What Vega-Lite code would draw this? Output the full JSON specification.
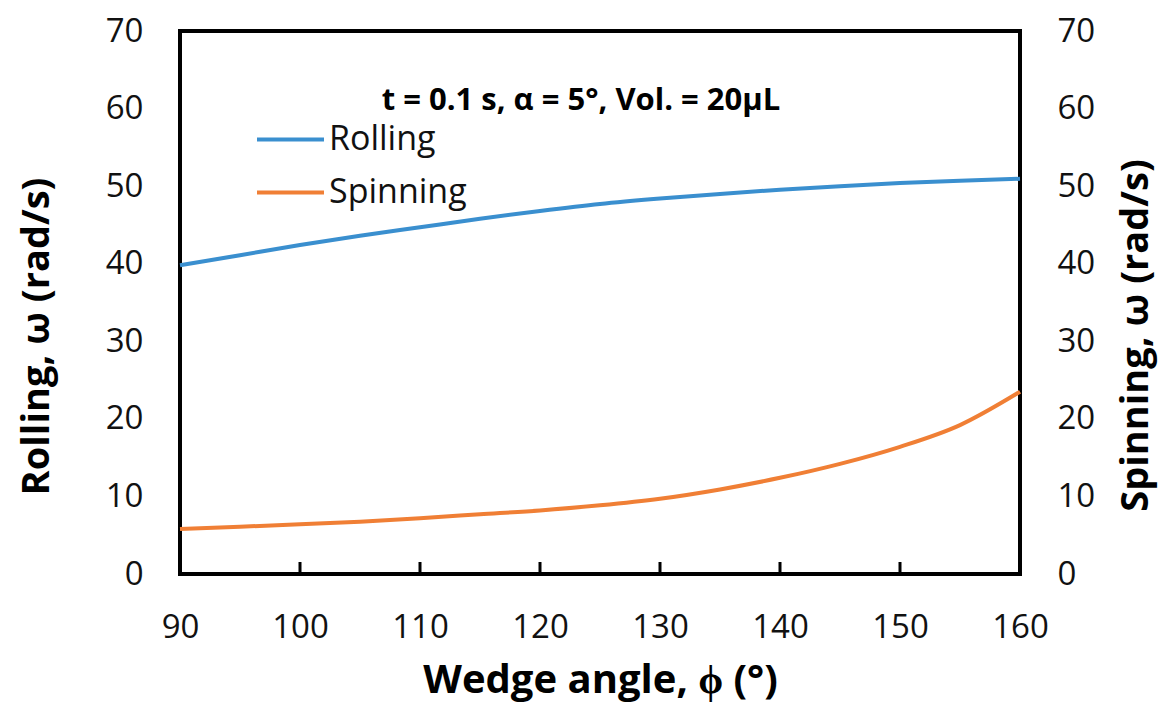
{
  "$schema": "https://vega.github.io/schema/vega-lite/v6.json",
  "width": 840,
  "height": 543,
  "autosize": "none",
  "padding": {"left": 180, "top": 31, "right": 139, "bottom": 135},
  "background": "white",
  "config": {
    "view": {"stroke": "black", "strokeWidth": 4},
    "font": "Open Sans",
    "axis": {
      "grid": false,
      "domain": false,
      "ticks": false,
      "labelFont": "Open Sans",
      "labelFontSize": 33,
      "labelColor": "#111111",
      "labelPadding": 37,
      "labelFlush": false,
      "titleFont": "Open Sans",
      "titleFontWeight": "bold",
      "titleFontSize": 38,
      "titleColor": "black"
    }
  },
  "title": {
    "text": "t = 0.1 s, α  = 5°, Vol. = 20µL",
    "anchor": "middle",
    "orient": "top",
    "offset": -126,
    "dx": -19,
    "baseline": "alphabetic",
    "font": "Open Sans",
    "fontSize": 31,
    "fontWeight": "bold",
    "color": "black"
  },
  "datasets": {
    "curves": [
      {"phi": 90, "series": "Rolling", "w": 39.8},
      {"phi": 95, "series": "Rolling", "w": 41.1},
      {"phi": 100, "series": "Rolling", "w": 42.4},
      {"phi": 105, "series": "Rolling", "w": 43.6},
      {"phi": 110, "series": "Rolling", "w": 44.7},
      {"phi": 115, "series": "Rolling", "w": 45.8},
      {"phi": 120, "series": "Rolling", "w": 46.8},
      {"phi": 125, "series": "Rolling", "w": 47.7},
      {"phi": 130, "series": "Rolling", "w": 48.4},
      {"phi": 135, "series": "Rolling", "w": 49.0},
      {"phi": 140, "series": "Rolling", "w": 49.55},
      {"phi": 145, "series": "Rolling", "w": 50.0},
      {"phi": 150, "series": "Rolling", "w": 50.4},
      {"phi": 155, "series": "Rolling", "w": 50.7},
      {"phi": 160, "series": "Rolling", "w": 50.95},
      {"phi": 90, "series": "Spinning", "w": 5.8},
      {"phi": 95, "series": "Spinning", "w": 6.1},
      {"phi": 100, "series": "Spinning", "w": 6.4},
      {"phi": 105, "series": "Spinning", "w": 6.75},
      {"phi": 110, "series": "Spinning", "w": 7.2},
      {"phi": 115, "series": "Spinning", "w": 7.7},
      {"phi": 120, "series": "Spinning", "w": 8.2},
      {"phi": 125, "series": "Spinning", "w": 8.85},
      {"phi": 130, "series": "Spinning", "w": 9.7},
      {"phi": 135, "series": "Spinning", "w": 10.9},
      {"phi": 140, "series": "Spinning", "w": 12.4},
      {"phi": 145, "series": "Spinning", "w": 14.2},
      {"phi": 150, "series": "Spinning", "w": 16.4},
      {"phi": 155, "series": "Spinning", "w": 19.2},
      {"phi": 160, "series": "Spinning", "w": 23.5}
    ],
    "xticks": [
      {"phi": 100}, {"phi": 110}, {"phi": 120}, {"phi": 130}, {"phi": 140}, {"phi": 150}
    ],
    "yticks": [
      {"w": 10}, {"w": 20}, {"w": 30}, {"w": 40}, {"w": 50}, {"w": 60}
    ]
  },
  "encoding": {
    "x": {
      "field": "phi",
      "type": "quantitative",
      "scale": {"domain": [90, 160], "nice": false},
      "axis": {
        "values": [90, 100, 110, 120, 130, 140, 150, 160],
        "title": "Wedge angle, ϕ (°)",
        "titleFontSize": 40,
        "titleBaseline": "alphabetic",
        "titleY": 118
      }
    }
  },
  "layer": [
    {
      "data": {"name": "xticks"},
      "mark": {"type": "tick", "orient": "vertical", "size": 12, "thickness": 3, "color": "black", "opacity": 1, "yOffset": -6},
      "encoding": {
        "y": {"datum": 0, "type": "quantitative", "scale": {"domain": [0, 70], "nice": false}, "axis": null}
      }
    },
    {
      "data": {"name": "yticks"},
      "mark": {"type": "tick", "orient": "horizontal", "size": 12, "thickness": 3, "color": "black", "opacity": 1, "xOffset": 6},
      "encoding": {
        "x": {"datum": 90, "type": "quantitative"},
        "y": {"field": "w", "type": "quantitative", "scale": {"domain": [0, 70], "nice": false}, "axis": null}
      }
    },
    {
      "data": {"name": "yticks"},
      "mark": {"type": "tick", "orient": "horizontal", "size": 12, "thickness": 3, "color": "black", "opacity": 1, "xOffset": -6},
      "encoding": {
        "x": {"datum": 160, "type": "quantitative"},
        "y": {"field": "w", "type": "quantitative", "scale": {"domain": [0, 70], "nice": false}, "axis": null}
      }
    },
    {
      "data": {"name": "curves"},
      "transform": [{"filter": "datum.series === 'Rolling'"}],
      "mark": {"type": "line", "strokeWidth": 4, "interpolate": "monotone"},
      "encoding": {
        "y": {
          "field": "w",
          "type": "quantitative",
          "scale": {"domain": [0, 70], "nice": false},
          "axis": {
            "orient": "left",
            "values": [0, 10, 20, 30, 40, 50, 60, 70],
            "title": "Rolling, ω (rad/s)",
            "titleAngle": -90,
            "titleBaseline": "middle",
            "titleX": -143,
            "titleY": 305
          }
        },
        "color": {
          "field": "series",
          "type": "nominal",
          "scale": {"domain": ["Rolling", "Spinning"], "range": ["#3A8FCF", "#F07F35"]},
          "legend": {
            "title": null,
            "orient": "none",
            "legendX": 75,
            "legendY": 73,
            "symbolType": "stroke",
            "symbolSize": 4489,
            "symbolStrokeWidth": 4,
            "labelFont": "Open Sans",
            "labelFontSize": 34,
            "labelColor": "#111111",
            "labelOffset": 3,
            "rowPadding": -13
          }
        }
      }
    },
    {
      "data": {"name": "curves"},
      "transform": [{"filter": "datum.series === 'Spinning'"}],
      "mark": {"type": "line", "strokeWidth": 4, "interpolate": "monotone"},
      "encoding": {
        "y": {
          "field": "w",
          "type": "quantitative",
          "scale": {"domain": [0, 70], "nice": false},
          "axis": {
            "orient": "right",
            "values": [0, 10, 20, 30, 40, 50, 60, 70],
            "title": "Spinning,  ω (rad/s)",
            "titleAngle": -90,
            "titleBaseline": "middle",
            "titleX": 116,
            "titleY": 304
          }
        },
        "color": {"field": "series", "type": "nominal"}
      }
    }
  ],
  "resolve": {"scale": {"y": "independent"}}
}
